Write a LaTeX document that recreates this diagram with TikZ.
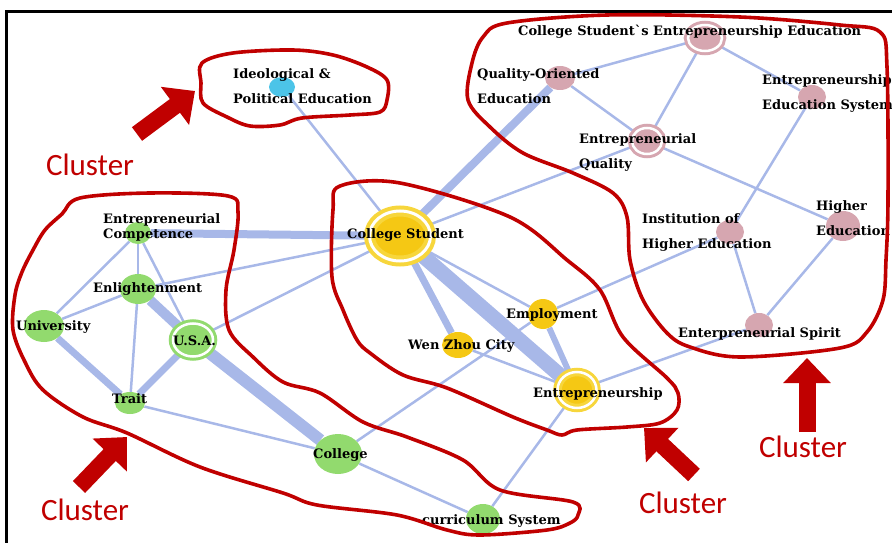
\documentclass[tikz,border=0pt]{standalone}
\usepackage{fontspec}
\usepackage{tikz}
\usetikzlibrary{shapes.geometric, arrows.meta, positioning, backgrounds}
\newfontfamily\nodefont{DejaVu Serif}
\newfontfamily\clusterfont{Carlito}
\definecolor{linkblue}{RGB}{168, 184, 232}
\definecolor{termgreen}{RGB}{146, 218, 110}
\definecolor{termpink}{RGB}{214, 166, 176}
\definecolor{termyellow}{RGB}{245, 200, 20}
\definecolor{ringyellow}{RGB}{247, 214, 60}
\definecolor{termcyan}{RGB}{76, 196, 232}
\definecolor{clusterred}{RGB}{192, 0, 0}

\begin{document}
\begin{tikzpicture}[
    x=1pt, y=-1pt,
    term/.style={
        ellipse,
        inner sep=0pt
    },
    ringterm/.style={
        term,
        double=white,
        double distance=2.5pt,
        line width=3pt
    },
    lbl/.style={
        inner sep=0pt,
        align=left,
        font=\nodefont\bfseries\fontsize{13}{25}\selectfont
    },
    link/.style={draw=linkblue, line width=2.5pt},
    midlink/.style={draw=linkblue, line width=7pt},
    heavylink/.style={draw=linkblue, line width=11pt},
    outline/.style={draw=clusterred, line width=3.6pt, line join=round},
    pointer/.style={draw=clusterred, line width=17pt, -{Triangle[length=25pt, width=46pt]}},
    tag/.style={text=clusterred, font=\clusterfont\fontsize{31}{35}\selectfont, anchor=base}
]
    \useasboundingbox (0,0) rectangle (892,543);
    % Frame
    \draw[line width=3pt] (6,543) -- (6,12) -- (892,12);

    % Terms: top left
    \node[term, fill=termcyan, minimum width=26, minimum height=20] (ipe) at (282,87) {};

    % Terms: right cluster
    \node[ringterm, fill=termpink, draw=termpink, minimum width=34, minimum height=26] (csee) at (705,38) {};
    \node[term, fill=termpink, minimum width=30, minimum height=24] (qoe) at (560,78) {};
    \node[term, fill=termpink, minimum width=28, minimum height=24] (ees) at (812,97) {};
    \node[ringterm, fill=termpink, draw=termpink, minimum width=30, minimum height=26] (eq) at (647,141) {};
    \node[term, fill=termpink, minimum width=28, minimum height=24] (ihe) at (730,232) {};
    \node[term, fill=termpink, minimum width=34, minimum height=30] (he) at (843,226) {};
    \node[term, fill=termpink, minimum width=28, minimum height=24] (es) at (759,325) {};

    % Terms: middle cluster
    \node[term, fill=termyellow, draw=ringyellow, double=white, double distance=3pt, line width=4pt,
        minimum width=61, minimum height=50] (cs) at (400,236) {};
    \node[term, fill=termyellow, minimum width=30, minimum height=30] (emp) at (543,314) {};
    \node[term, fill=termyellow, minimum width=32, minimum height=26] (wz) at (458,345) {};
    \node[ringterm, fill=termyellow, draw=ringyellow, minimum width=39, minimum height=36] (ent) at (577,390) {};

    % Terms: left cluster
    \node[term, fill=termgreen, minimum width=26, minimum height=22] (ec) at (138,233) {};
    \node[term, fill=termgreen, minimum width=36, minimum height=30] (enl) at (138,289) {};
    \node[term, fill=termgreen, minimum width=40, minimum height=32] (uni) at (44,326) {};
    \node[ringterm, fill=termgreen, draw=termgreen, minimum width=40, minimum height=33] (usa) at (193,340) {};
    \node[term, fill=termgreen, minimum width=30, minimum height=22] (trait) at (130,403) {};
    \node[term, fill=termgreen, minimum width=48, minimum height=40] (col) at (338,454) {};
    \node[term, fill=termgreen, minimum width=34, minimum height=30] (cur) at (483,519) {};

    % Links
    \begin{scope}[on background layer]
        \draw[link] (ipe) -- (cs);
        \draw[midlink, line width=8pt] (cs) -- (qoe);
        \draw[link] (cs) -- (eq);
        \draw[midlink, line width=8pt] (cs) -- (ec);
        \draw[link] (cs) -- (enl);
        \draw[link] (cs) -- (usa);
        \draw[midlink] (cs) -- (wz);
        \draw[heavylink, line width=15pt] (cs) -- (ent);
        \draw[link] (cs) -- (emp);
        \draw[midlink, line width=6pt] (emp) -- (ent);
        \draw[link] (emp) -- (ihe);
        \draw[link] (col) -- (emp);
        \draw[link] (wz) -- (ent);
        \draw[link] (ent) -- (es);
        \draw[link] (ent) -- (cur);
        \draw[link] (col) -- (cur);
        \draw[heavylink, line width=12pt] (usa) -- (col);
        \draw[link] (trait) -- (col);
        \draw[midlink] (usa) -- (trait);
        \draw[heavylink, line width=10pt] (usa) -- (enl);
        \draw[midlink] (uni) -- (trait);
        \draw[link] (uni) -- (enl);
        \draw[link] (uni) -- (ec);
        \draw[link] (enl) -- (trait);
        \draw[link] (ec) -- (enl);
        \draw[link] (ec) -- (usa);
        \draw[link] (csee) -- (qoe);
        \draw[link] (csee) -- (eq);
        \draw[link] (csee) -- (ees);
        \draw[link] (qoe) -- (eq);
        \draw[link] (eq) -- (he);
        \draw[link] (ees) -- (ihe);
        \draw[link] (ihe) -- (es);
        \draw[link] (he) -- (es);
    \end{scope}

    % Labels
    \node[lbl, anchor=base west] (ipe-t) at (233,103) {Ideological \&\\Political Education};
    \node[lbl, anchor=base west] (csee-t) at (518,36) {College Student`s Entrepreneurship Education};
    \node[lbl, anchor=base west] (qoe-t) at (477,103) {Quality-Oriented\\Education};
    \node[lbl, anchor=base west] (ees-t) at (762,110) {Entrepreneurship\\Education System};
    \node[lbl, anchor=base west] (eq-t) at (579,168) {Entrepreneurial\\Quality};
    \node[lbl, anchor=base west] (ihe-t) at (642,248) {Institution of\\Higher Education};
    \node[lbl, anchor=base west] (he-t) at (816,235) {Higher\\Education};
    \node[lbl, anchor=base west] (es-t) at (678,337) {Enterpreneurial Spirit};
    \node[lbl, anchor=base west] (cs-t) at (347,238) {College Student};
    \node[lbl, anchor=base west] (emp-t) at (506,318) {Employment};
    \node[lbl, anchor=base west] (wz-t) at (408,349) {Wen Zhou City};
    \node[lbl, anchor=base west] (ent-t) at (533,397) {Entrepreneurship};
    \node[lbl, anchor=base west, font=\nodefont\bfseries\fontsize{13}{15}\selectfont] (ec-t) at (103,238) {Entrepreneurial\\Competence};
    \node[lbl, anchor=base west] (enl-t) at (93,292) {Enlightenment};
    \node[lbl, anchor=base west] (uni-t) at (16,330) {University};
    \node[lbl, anchor=base west] (usa-t) at (173,345) {U.S.A.};
    \node[lbl, anchor=base west] (trait-t) at (112,403) {Trait};
    \node[lbl, anchor=base west] (col-t) at (313,458) {College};
    \node[lbl, anchor=base west] (cur-t) at (422,524) {curriculum System};

    % Cluster outlines
    \draw[outline] plot[smooth cycle, tension=0.55] coordinates {
        (202,63) (233,53) (293,50) (333,55) (367,67) (387,80) (387,100) (380,112)
        (350,115) (302,118) (280,125) (250,126) (227,117) (203,103) (201,83)};
    \draw[outline] plot[smooth cycle, tension=0.55] coordinates {
        (80,198) (150,193) (228,196) (238,212) (234,250) (226,290) (229,330)
        (253,357) (283,382) (320,393) (363,422) (407,437) (463,460) (500,490)
        (573,502) (578,515) (570,523) (547,530) (480,535) (447,530) (397,515)
        (317,505) (283,493) (200,467) (127,433) (83,417) (43,390) (25,362)
        (13,330) (15,295) (22,272) (33,250) (45,230) (62,214)};
    \draw[outline] plot[smooth cycle, tension=0.55] coordinates {
        (340,186) (400,183) (510,217) (567,260) (600,290) (623,337) (667,378)
        (678,393) (677,410) (660,423) (627,427) (577,430) (562,435) (547,430)
        (513,417) (447,388) (403,375) (370,353) (357,340) (343,310) (332,277) (333,210)};
    \draw[outline] plot[smooth cycle, tension=0.55] coordinates {
        (472,63) (483,37) (507,23) (607,15) (740,17) (840,25) (880,32) (887,67)
        (888,200) (886,260) (883,300) (867,332) (840,348) (740,357) (690,347)
        (667,333) (643,300) (630,260) (627,217) (613,193) (573,173) (523,153)
        (490,127) (468,100)};

    % Cluster pointers
    \coordinate (ptrA tail) at (137,134);
    \coordinate (ptrA tip) at (195,91);
    \coordinate (ptrB tail) at (79,487);
    \coordinate (ptrB tip) at (127,437);
    \coordinate (ptrC tail) at (694,475);
    \coordinate (ptrC tip) at (644,428);
    \coordinate (ptrD tail) at (807,432);
    \coordinate (ptrD tip) at (807,358);
    \draw[pointer] (ptrA tail) -- (ptrA tip);
    \draw[pointer] (ptrB tail) -- (ptrB tip);
    \draw[pointer] (ptrC tail) -- (ptrC tip);
    \draw[pointer] (ptrD tail) -- (ptrD tip);

    % Cluster tags
    \node[tag] (tagA) at (90,175) {Cluster};
    \node[tag] (tagB) at (85,520) {Cluster};
    \node[tag] (tagC) at (683,513) {Cluster};
    \node[tag] (tagD) at (803,457) {Cluster};
\end{tikzpicture}
\end{document}
